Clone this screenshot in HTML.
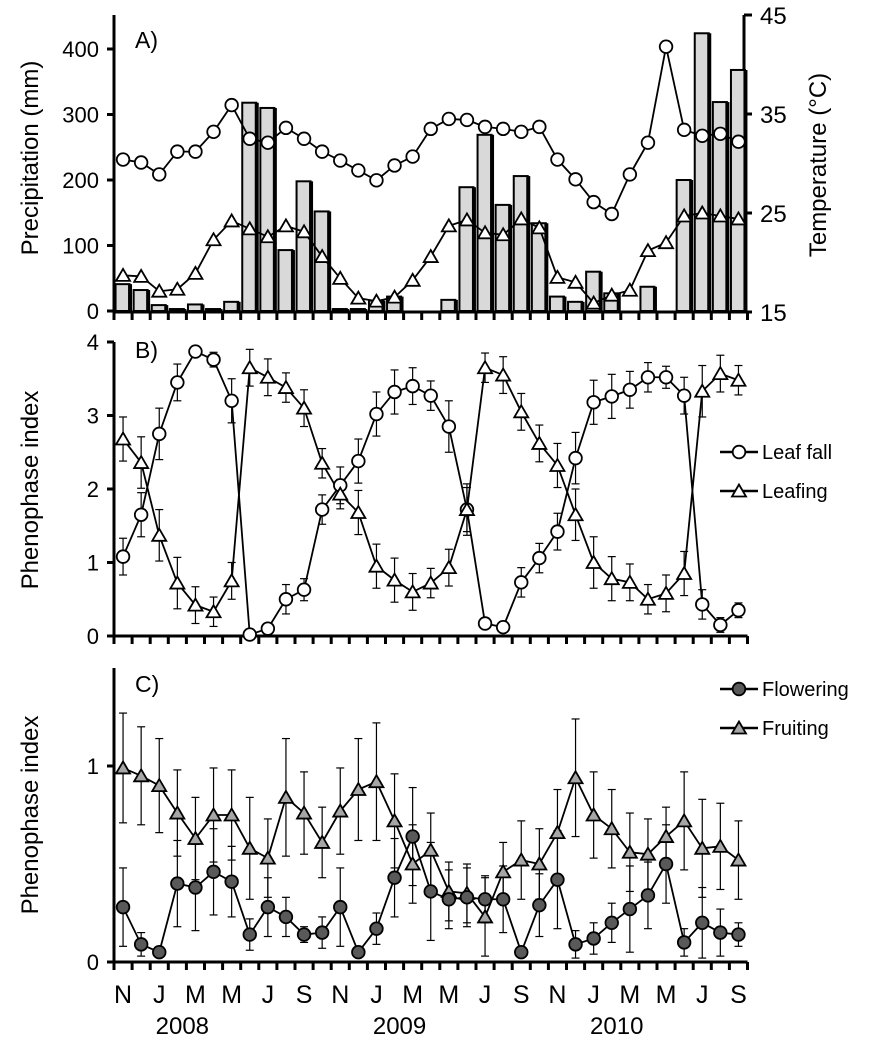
<!DOCTYPE html>
<html><head><meta charset="utf-8">
<style>
html,body{margin:0;padding:0;background:#fff;}
svg{display:block;font-family:"Liberation Sans",Arial,sans-serif;}
</style></head>
<body>
<svg id="chart" width="877" height="1039" viewBox="0 0 877 1039" xmlns="http://www.w3.org/2000/svg">
<g id="axes"></g><g id="marks"></g>
</svg>
<script>
// ---------- data ----------
const months = ["N","J","M","M","J","S","N","J","M","M","J","S","N","J","M","M","J","S"];
const years = ["2008","2009","2010"];
const precip = [41,32,9,3,10,3,14,318,310,93,198,152,3,3,16,22,0,0,17,189,269,162,206,134,22,14,60,27,0,37,0,200,424,319,368];
const tmax = [30.4,30.1,28.9,31.2,31.2,33.2,35.9,32.5,32.1,33.6,32.5,31.2,30.3,29.3,28.3,29.8,30.7,33.5,34.5,34.4,33.7,33.5,33.2,33.7,30.4,28.4,26.1,24.9,28.9,32.1,41.8,33.4,32.8,33.0,32.2];
const tmin = [18.7,18.6,17.1,17.3,18.9,22.3,24.2,23.4,22.6,23.7,23.1,20.6,18.4,16.4,16.1,16.5,18.2,20.6,23.7,24.3,23.0,22.8,24.4,23.5,18.5,18.0,15.9,16.7,17.2,21.2,22.0,24.7,25.0,24.7,24.4];
const leafFall = [1.08,1.65,2.75,3.45,3.87,3.76,3.2,0.02,0.1,0.5,0.63,1.72,2.05,2.38,3.02,3.32,3.4,3.27,2.85,1.72,0.17,0.12,0.73,1.06,1.42,2.42,3.18,3.26,3.35,3.52,3.52,3.27,0.43,0.15,0.35];
const leafFallErr = [0.25,0.3,0.35,0.25,0.05,0.1,0.3,0,0,0.2,0.15,0.2,0.25,0.3,0.3,0.3,0.25,0.2,0.35,0.3,0,0,0.2,0.2,0.25,0.35,0.3,0.3,0.25,0.2,0.15,0.25,0.2,0.1,0.1];
const leafing = [2.68,2.36,1.37,0.72,0.42,0.33,0.75,3.65,3.52,3.38,3.1,2.35,1.93,1.68,0.95,0.76,0.6,0.72,0.93,1.72,3.65,3.55,3.05,2.62,2.32,1.65,1.0,0.78,0.73,0.5,0.58,0.85,3.33,3.57,3.48];
const leafingErr = [0.3,0.35,0.35,0.35,0.25,0.2,0.25,0.25,0.25,0.2,0.25,0.2,0.2,0.3,0.3,0.3,0.25,0.2,0.25,0.35,0.2,0.25,0.25,0.25,0.3,0.35,0.35,0.3,0.25,0.2,0.25,0.3,0.35,0.25,0.2];
const flowering = [0.28,0.09,0.05,0.4,0.38,0.46,0.41,0.14,0.28,0.23,0.14,0.15,0.28,0.05,0.17,0.43,0.64,0.36,0.32,0.33,0.32,0.32,0.05,0.29,0.42,0.09,0.12,0.2,0.27,0.34,0.5,0.1,0.2,0.15,0.14];
const floweringErr = [0.2,0.06,0.02,0.22,0.22,0.22,0.18,0.08,0.15,0.1,0.04,0.08,0.2,0.02,0.08,0.2,0.25,0.25,0.15,0.15,0.12,0.17,0.02,0.16,0.25,0.07,0.08,0.1,0.22,0.17,0.2,0.07,0.18,0.12,0.06];
const fruiting = [0.99,0.95,0.9,0.76,0.63,0.75,0.75,0.58,0.53,0.84,0.76,0.61,0.77,0.88,0.92,0.72,0.5,0.57,0.36,0.35,0.23,0.46,0.52,0.5,0.66,0.94,0.75,0.68,0.56,0.55,0.64,0.72,0.58,0.59,0.52];
const fruitingErr = [0.28,0.25,0.24,0.22,0.21,0.24,0.23,0.26,0.2,0.3,0.21,0.18,0.22,0.26,0.3,0.24,0.2,0.19,0.15,0.15,0.2,0.15,0.2,0.18,0.22,0.3,0.22,0.2,0.2,0.18,0.15,0.25,0.25,0.22,0.2];
const precipTicks = [0,100,200,300,400];
const tempTicks = [15,25,35,45];
const phenoTicksB = [0,1,2,3,4];
const phenoTicksC = [0,1];

// ---------- scales ----------
const X0=114, STEP=18.1, NM=35;
const x = i => X0 + STEP*(i+0.5);
const yP = v => 311 - v*0.655;
const yT = v => 312 - (v-15)*9.9;
const yB = v => 636 - v*73.5;
const yC = v => 962 - v*196;

const NS="http://www.w3.org/2000/svg";
const axes=document.getElementById('axes'), marks=document.getElementById('marks');
function el(tag, attrs, parent){const e=document.createElementNS(NS,tag);for(const k in attrs)e.setAttribute(k,attrs[k]);(parent||marks).appendChild(e);return e;}
function txt(s, attrs, parent){const e=el('text',attrs,parent||axes);e.textContent=s;return e;}

// ---------- axes ----------
function xAxis(y, name){
  let a=el('line',{x1:X0,y1:y,x2:X0+STEP*NM,y2:y,stroke:'#000','stroke-width':3},axes);
  
  
  for(let k=0;k<=NM;k++){ el('line',{x1:X0+STEP*k,y1:y,x2:X0+STEP*k,y2:y+8,stroke:'#000','stroke-width':3},axes); }
}
function leftAxis(y1,y2,ticks,sc,name){
  let a=el('line',{x1:X0,y1:y1,x2:X0,y2:y2,stroke:'#000','stroke-width':3},axes);
  
  
  ticks.forEach(t=>{
    el('line',{x1:X0-7,y1:sc(t),x2:X0,y2:sc(t),stroke:'#000','stroke-width':3},axes);
    let l=txt(String(t),{x:X0-15,y:sc(t)+8,'font-size':22,'text-anchor':'end'});
    
    
  });
}
// Panel A
leftAxis(15,312,precipTicks,yP,'precip-axis');
xAxis(312,'x-axis-a');
let ra=el('line',{x1:744,y1:15,x2:744,y2:312,stroke:'#000','stroke-width':3},axes);


tempTicks.forEach(t=>{
  el('line',{x1:744,y1:yT(t),x2:752,y2:yT(t),stroke:'#000','stroke-width':3},axes);
  let l=txt(String(t),{x:760,y:yT(t)+9,'font-size':24});
  
  
});
// Panel B
leftAxis(342,636,phenoTicksB,yB,'pheno-axis-b');
xAxis(636,'x-axis-b');
// Panel C
leftAxis(668,962,phenoTicksC,yC,'pheno-axis-c');
xAxis(962,'x-axis-c');
months.forEach((m,k)=>{
  let l=txt(m,{x:x(2*k),y:1003,'font-size':25,'text-anchor':'middle'});
  
  
});
years.forEach((yr,k)=>{
  let l=txt(yr,{x:x(3+12*k)+5,y:1034,'font-size':24,'text-anchor':'middle'});
  
  
});
function vtitle(s,cx,cy,name){
  let l=txt(s,{x:0,y:0,'font-size':24,'text-anchor':'middle',transform:`translate(${cx},${cy}) rotate(-90)`});
  
  
}
vtitle('Precipitation (mm)',38,158,'y-axis-title-precip');
vtitle('Temperature (°C)',826,165,'y-axis-title-temp');
vtitle('Phenophase index',38,490,'y-axis-title-b');
vtitle('Phenophase index',38,815,'y-axis-title-c');
[['A)',135,48,'panel-label-a'],['B)',135,358,'panel-label-b'],['C)',135,692,'panel-label-c']].forEach(p=>{
  let l=txt(p[0],{x:p[1],y:p[2],'font-size':23});
  
  
});

// ---------- marks ----------
precip.forEach((v,i)=>{
  if(v<=0) return;
  const top=yP(v), h=311-top;
  let r=el('rect',{x:x(i)-7.5,y:top,width:14,height:h,fill:'#d9d9d9',stroke:'#000','stroke-width':2});
  
  
  el('rect',{x:x(i)+5,y:top,width:4,height:h,fill:'#000'});
});
function line(vals,sc,name){
  let p=el('polyline',{points:vals.map((v,i)=>x(i)+','+sc(v)).join(' '),fill:'none',stroke:'#000','stroke-width':1.8});
  
  
}
function errs(vals,e,sc){
  vals.forEach((v,i)=>{
    if(!e[i]) return;
    const a=sc(v+e[i]), b=sc(Math.max(0,v-e[i])), cx=x(i);
    el('line',{x1:cx,y1:a,x2:cx,y2:b,stroke:'#000','stroke-width':1.2});
    el('line',{x1:cx-4,y1:a,x2:cx+4,y2:a,stroke:'#000','stroke-width':1.2});
    el('line',{x1:cx-4,y1:b,x2:cx+4,y2:b,stroke:'#000','stroke-width':1.2});
  });
}
function circ(cx,cy,fill,name){
  let c=el('circle',{cx:cx,cy:cy,r:6.3,fill:fill,stroke:'#000','stroke-width':1.8});
  
  
}
function tri(cx,cy,fill,name){
  let t=el('polygon',{points:`${cx},${cy-6.5} ${cx-7},${cy+5.5} ${cx+7},${cy+5.5}`,fill:fill,stroke:'#000','stroke-width':1.8});
  
  
}
// A
line(tmax,yT,'tmax-line'); tmax.forEach((v,i)=>circ(x(i),yT(v),'#fff','tmax-point'));
line(tmin,yT,'tmin-line'); tmin.forEach((v,i)=>tri(x(i),yT(v),'#fff','tmin-point'));
// B
errs(leafFall,leafFallErr,yB); errs(leafing,leafingErr,yB);
line(leafFall,yB,'leaf-fall-line'); line(leafing,yB,'leafing-line');
leafFall.forEach((v,i)=>circ(x(i),yB(v),'#fff','leaf-fall-point'));
leafing.forEach((v,i)=>tri(x(i),yB(v),'#fff','leafing-point'));
// C
errs(fruiting,fruitingErr,yC); errs(flowering,floweringErr,yC);
line(fruiting,yC,'fruiting-line'); line(flowering,yC,'flowering-line');
fruiting.forEach((v,i)=>tri(x(i),yC(v),'#a6a6a6','fruiting-point'));
flowering.forEach((v,i)=>circ(x(i),yC(v),'#595959','flowering-point'));

// ---------- legends ----------
function legend(label,y,type,fill,name){
  el('line',{x1:720,y1:y,x2:758,y2:y,stroke:'#000','stroke-width':2.5});
  if(type==='c') circ(739,y,fill,name+'-marker'); else tri(739,y,fill,name+'-marker');
  let l=txt(label,{x:762,y:y+7,'font-size':20},marks);
  
  
}
legend('Leaf fall',452,'c','#fff','legend-leaf-fall');
legend('Leafing',491,'t','#fff','legend-leafing');
legend('Flowering',689,'c','#595959','legend-flowering');
legend('Fruiting',728,'t','#a6a6a6','legend-fruiting');
</script>
</body></html>
